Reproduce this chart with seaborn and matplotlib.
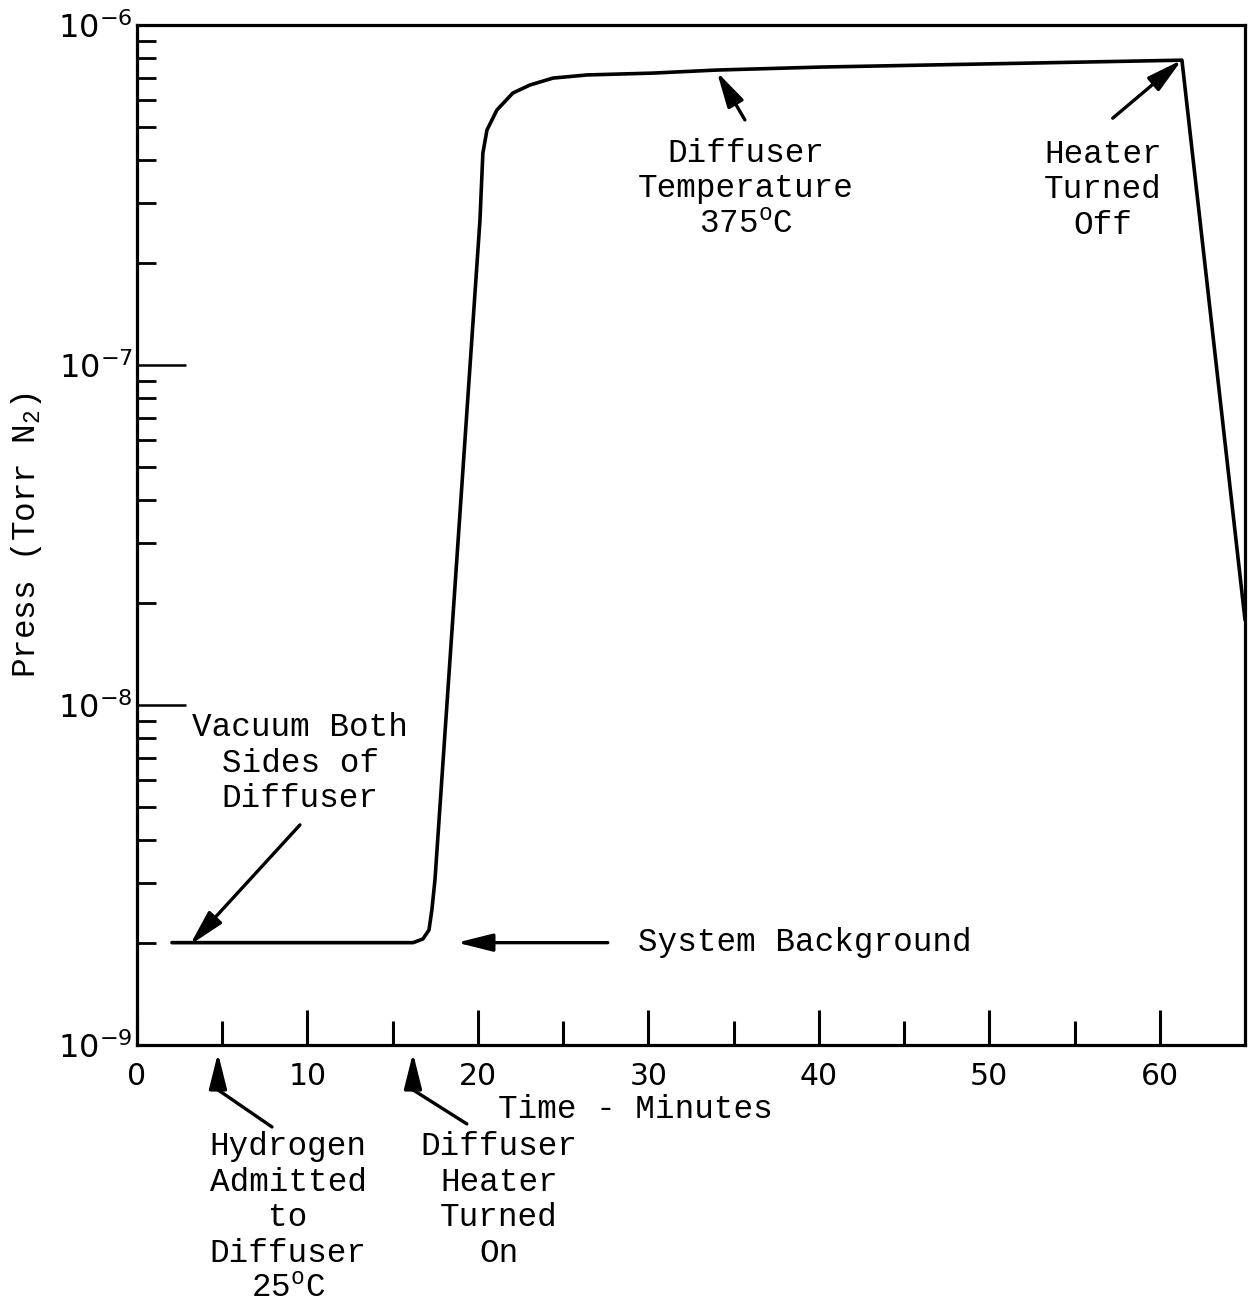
import numpy as np
import pandas as pd
import matplotlib
matplotlib.use("Agg")
import matplotlib.pyplot as plt
import seaborn as sns
from matplotlib.ticker import FixedLocator, LogLocator, NullFormatter

# ---- data ----
time_min = [2.05, 16.2, 16.77, 17.13, 17.3, 17.48, 20.12, 20.29, 20.53, 21.11,
            22.05, 23.05, 24.4, 26.4, 30.26, 34.0, 40.06, 61.3, 65.0]
pressure = [2.0e-9, 2.0e-9, 2.05e-9, 2.18e-9, 2.5e-9, 3.06e-9, 2.67e-7, 4.2e-7,
            4.91e-7, 5.62e-7, 6.31e-7, 6.66e-7, 6.98e-7, 7.13e-7, 7.22e-7,
            7.37e-7, 7.52e-7, 7.88e-7, 1.78e-8]
x_major = [0, 10, 20, 30, 40, 50, 60]
x_minor = [5, 15, 25, 35, 45, 55]
x_ticklabels = ["0", "10", "20", "30", "40", "50", "60"]
y_major = [1e-9, 1e-8, 1e-7, 1e-6]
y_ticklabels = [r"$\mathregular{10^{-9}}$", r"$\mathregular{10^{-8}}$",
                r"$\mathregular{10^{-7}}$", r"$\mathregular{10^{-6}}$"]

df = pd.DataFrame({"time": time_min, "pressure": pressure})

sns.set_style("ticks")
plt.rcParams["font.family"] = ["DejaVu Sans"]
for k in ["text.color", "axes.labelcolor", "xtick.color", "ytick.color", "axes.edgecolor"]:
    plt.rcParams[k] = "black"
MONO = ["Liberation Mono", "DejaVu Sans Mono"]
FS = 23.5

W, H = 1252, 1306
fig = plt.figure(figsize=(W / 100, H / 100), dpi=100)
ax = fig.add_axes([137 / W, 1 - 1045 / H, (1245 - 137) / W, (1045 - 25) / H])

sns.lineplot(data=df, x="time", y="pressure", color="black", linewidth=2.6,
             estimator=None, sort=False, ax=ax)
ax.set_yscale("log")
ax.set_xlim(0, 65)
ax.set_ylim(1e-9, 1e-6)

for s in ax.spines.values():
    s.set_linewidth(2.3)
    s.set_color("black")

ax.xaxis.set_major_locator(FixedLocator(x_major))
ax.xaxis.set_minor_locator(FixedLocator(x_minor))
ax.set_xticklabels(x_ticklabels)
ax.yaxis.set_major_locator(FixedLocator(y_major))
ax.set_yticklabels(y_ticklabels)
ax.yaxis.set_minor_locator(LogLocator(base=10, subs=np.arange(2, 10)))
ax.yaxis.set_minor_formatter(NullFormatter())

ax.tick_params(axis="x", which="major", direction="in", length=25, width=2.2,
               labelsize=21.5, pad=12, color="black", labelcolor="black")
ax.tick_params(axis="x", which="minor", direction="in", length=17, width=2.2,
               color="black")
ax.tick_params(axis="y", which="major", direction="in", length=35, width=1.8,
               labelsize=23, pad=3, color="black", labelcolor="black")
ax.tick_params(axis="y", which="minor", direction="in", length=14, width=2.0,
               color="black")

ax.set_xlabel("Time - Minutes", family=MONO, fontsize=FS, color="black")
ax.xaxis.set_label_coords((635 - 137) / 1108, (1045 - 1094) / 1020)
ax.set_ylabel(r"Press (Torr N$\mathregular{_2}$)", family=MONO, fontsize=FS,
              color="black")
ax.yaxis.set_label_coords((44 - 137) / 1108, 0.5)


def fpx(x, y):
    return (x / W, 1 - y / H)


txt_kw = dict(family=MONO, fontsize=FS, ha="center", va="center",
              transform=fig.transFigure, linespacing=1.2, color="black")
fig.text(*fpx(300, 763), "Vacuum Both\nSides of\nDiffuser", **txt_kw)
fig.text(*fpx(638, 943), "System Background", **{**txt_kw, "ha": "left"})
fig.text(*fpx(746, 189), "Diffuser\nTemperature\n375$\\mathregular{^o}$C", **txt_kw)
fig.text(*fpx(1103, 190), "Heater\nTurned\nOff", **txt_kw)
fig.text(*fpx(288, 1218), "Hydrogen\nAdmitted\nto\nDiffuser\n25$\\mathregular{^o}$C", **txt_kw)
fig.text(*fpx(499, 1200), "Diffuser\nHeater\nTurned\nOn", **txt_kw)

arrow = dict(arrowstyle="-|>,head_length=1.2,head_width=0.3", color="black",
             lw=2.4, mutation_scale=18, shrinkA=0, shrinkB=0)
line = dict(arrowstyle="-", color="black", lw=2.4, shrinkA=0, shrinkB=0)

ax.annotate("", xy=(3.11, 1.97e-9), xytext=(9.56, 4.44e-9), arrowprops=arrow)
ax.annotate("", xy=(18.77, 2.0e-9), xytext=(27.62, 2.0e-9), arrowprops=arrow)
ax.annotate("", xy=(34.02, 7.28e-7), xytext=(35.66, 5.26e-7), arrowprops=arrow)
ax.annotate("", xy=(61.29, 7.89e-7), xytext=(57.24, 5.32e-7), arrowprops=arrow)
# arrows below the axis
ax.annotate("", xy=(4.75, 9.47e-10), xytext=(4.75, 7.38e-10), arrowprops=arrow,
            annotation_clip=False)
ax.annotate("", xy=(4.75, 7.38e-10), xytext=(7.92, 5.74e-10), arrowprops=line,
            annotation_clip=False)
ax.annotate("", xy=(16.19, 9.47e-10), xytext=(16.19, 7.38e-10), arrowprops=arrow,
            annotation_clip=False)
ax.annotate("", xy=(16.19, 7.38e-10), xytext=(19.35, 5.86e-10), arrowprops=line,
            annotation_clip=False)

fig.savefig("out.png", dpi=100)
